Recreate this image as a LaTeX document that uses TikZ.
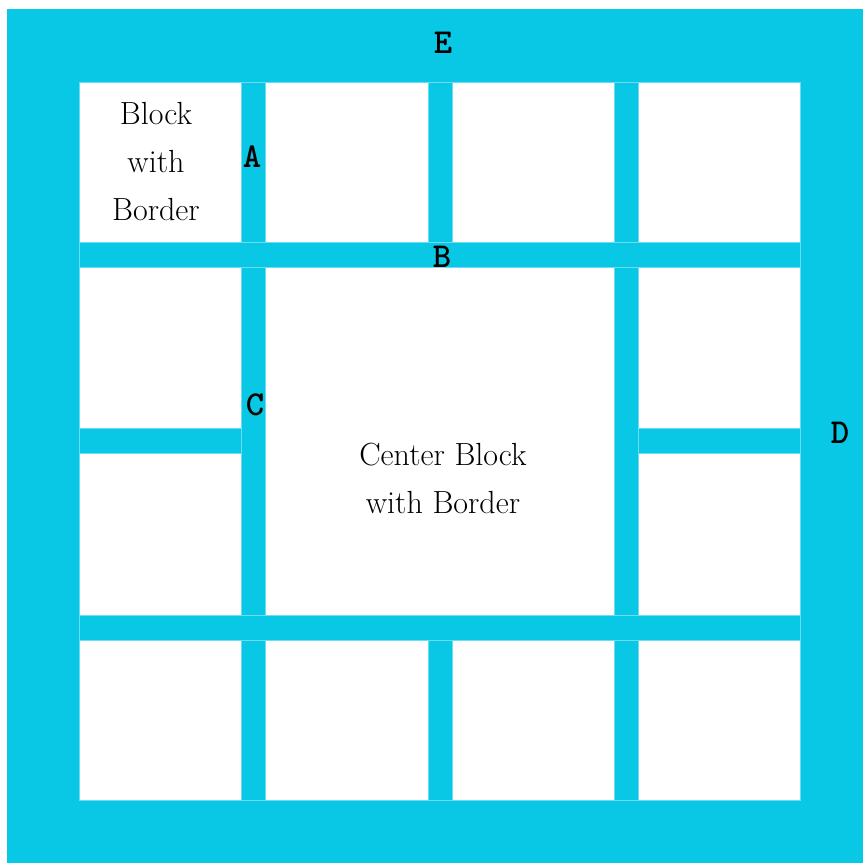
\documentclass[tikz,border=0pt]{standalone}
\usepackage{fontspec}
\definecolor{quiltcyan}{RGB}{8,200,230}
\definecolor{seamcyan}{RGB}{110,220,240}

\begin{document}
\begin{tikzpicture}[x=1pt,y=-1pt,
  sash/.style={fill=quiltcyan,draw=seamcyan,line width=1pt},
  letter/.style={font=\ttfamily\bfseries\fontsize{35}{35}\selectfont,inner sep=0pt},
  blocktext/.style={font=\fontsize{32}{48}\selectfont,align=center,inner sep=0pt}]
\useasboundingbox (0,0) rectangle (863,863);
\fill[white] (0,0) rectangle (863,863);
\fill[quiltcyan] (7,9) rectangle (863,863);
\draw[seamcyan,fill=white,line width=1pt] (79,82) rectangle (800,800);
\foreach \x in {241,428,614} {
  \draw[sash] (\x,82) rectangle +(24,160);
  \draw[sash] (\x,640) rectangle +(24,160);
}
\draw[sash] (79,242) rectangle (800,267);
\draw[sash] (79,615) rectangle (800,640);
\foreach \x in {241,614} \draw[sash] (\x,267) rectangle +(24,348);
\foreach \x in {79,638} \draw[sash] (\x,428) rectangle +(162,25);
\node[blocktext] (cornertext) at (156,162) {Block\\with\\Border};
\node[blocktext] (centertext) at (443,478) {Center Block\\with Border};
\node[letter] (E) at (443,43) {E};
\node[letter] (A) at (252,157) {A};
\node[letter] (B) at (442,257) {B};
\node[letter] (C) at (255,405) {C};
\node[letter] (D) at (840,433) {D};
\end{tikzpicture}
\end{document}
